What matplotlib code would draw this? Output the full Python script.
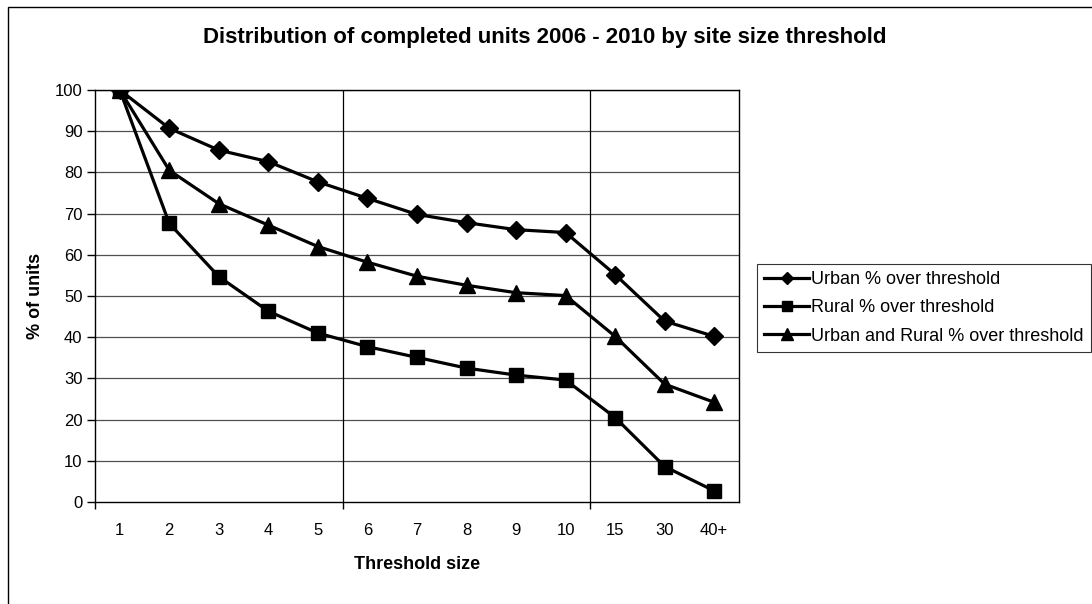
import matplotlib
matplotlib.use("Agg")
import matplotlib.pyplot as plt
from matplotlib.lines import Line2D
from matplotlib.patches import Rectangle

plt.rcParams['font.family'] = ['Liberation Sans', 'DejaVu Sans']

categories = ["1", "2", "3", "4", "5", "6", "7", "8", "9", "10", "15", "30", "40+"]
urban = [100, 90.7, 85.4, 82.6, 77.7, 73.7, 69.8, 67.8, 66.1, 65.4, 55.2, 43.9, 40.2]
rural = [100, 67.6, 54.7, 46.3, 41.0, 37.7, 35.1, 32.5, 30.8, 29.6, 20.5, 8.6, 2.7]
combined = [100, 80.5, 72.4, 67.2, 62.0, 58.2, 54.8, 52.6, 50.8, 50.1, 40.2, 28.6, 24.2]
series_labels = ["Urban % over threshold", "Rural % over threshold",
                 "Urban and Rural % over threshold"]
yticks = [0, 10, 20, 30, 40, 50, 60, 70, 80, 90, 100]

W, H = 1092, 604
fig = plt.figure(figsize=(W / 100, H / 100), dpi=100)

# chart area border (only left/top visible in the crop)
fig.patches.append(Rectangle((8 / W, -0.2), 1.5, 1.2 - 7 / H,
                             transform=fig.transFigure, fill=False,
                             edgecolor='black', linewidth=1.0))

ax = fig.add_axes([95 / W, 1 - 502 / H, 644 / W, 412 / H])
x = list(range(len(categories)))

ax.set_xlim(-0.5, len(categories) - 0.5)
ax.set_ylim(0, 100)

for v in yticks[1:]:
    ax.axhline(v, color='#505050', linewidth=0.9, zorder=1)
for b in [4.5, 9.5]:
    ax.axvline(b, color='black', linewidth=0.9, zorder=1)

lw = 2.3
ax.plot(x, urban, color='black', linewidth=lw, marker='D', markersize=9, zorder=3)
ax.plot(x, rural, color='black', linewidth=lw, marker='s', markersize=10.5, zorder=3)
ax.plot(x, combined, color='black', linewidth=lw, marker='^', markersize=11.5, zorder=3)

ax.set_yticks(yticks)
ax.set_yticklabels([str(v) for v in yticks], fontsize=12)
ax.tick_params(axis='y', direction='out', length=6, width=1, pad=3, colors='black')

ax.set_xticks(x)
ax.set_xticklabels(categories, fontsize=12)
ax.tick_params(axis='x', which='major', length=0, pad=15)
ax.set_xticks([-0.5, 4.5, 9.5], minor=True)
ax.tick_params(axis='x', which='minor', direction='out', length=5, width=1)

for s in ax.spines.values():
    s.set_color('black')
    s.set_linewidth(1.0)

ax.set_xlabel("Threshold size", fontsize=13, fontweight='bold', labelpad=13)
ax.set_ylabel("% of units", fontsize=13, fontweight='bold', labelpad=8)

fig.text(545 / W, 1 - 37 / H, "Distribution of completed units 2006 - 2010 by site size threshold",
         ha='center', va='center', fontsize=16, fontweight='bold')

handles = [
    Line2D([], [], color='black', linewidth=lw, marker='D', markersize=6),
    Line2D([], [], color='black', linewidth=lw, marker='s', markersize=7),
    Line2D([], [], color='black', linewidth=lw, marker='^', markersize=8),
]
leg = fig.legend(handles, series_labels, loc='upper left',
                 bbox_to_anchor=(757 / W, 1 - 264 / H), borderaxespad=0,
                 fontsize=13, frameon=True, fancybox=False, handlelength=2.5,
                 handletextpad=0.1, labelspacing=0.62, borderpad=0.4)
leg.get_frame().set_edgecolor('black')
leg.get_frame().set_linewidth(0.8)

fig.savefig("out.png", dpi=100)
